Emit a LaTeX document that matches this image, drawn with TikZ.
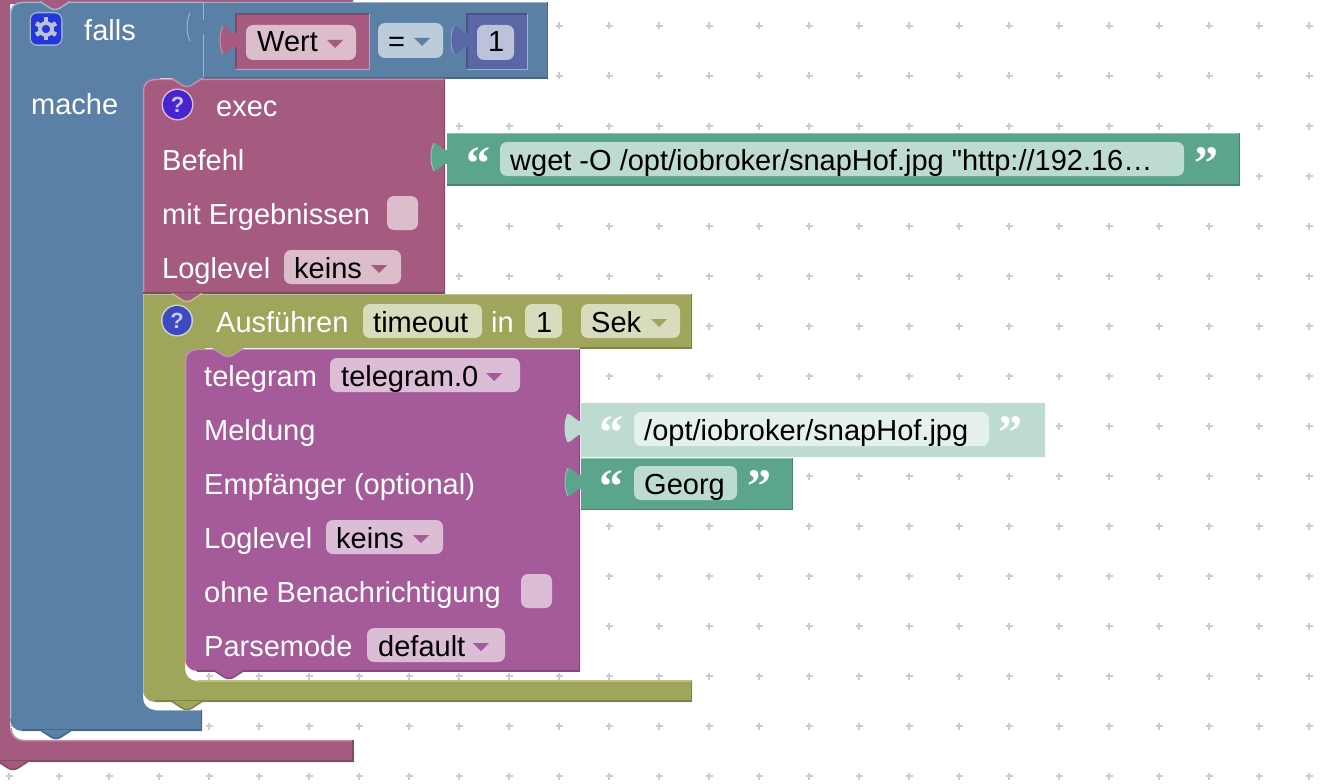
\documentclass[tikz,border=0pt]{standalone}
\usepackage{fontspec}
\newfontfamily\lbfont{Liberation Sans}
\newfontfamily\lbbold{Liberation Sans Bold}
\newfontfamily\qfont{Liberation Serif Bold}
\definecolor{pk}{HTML}{A55B80}\definecolor{pkL}{HTML}{C48FAA}\definecolor{pkD}{HTML}{844966}\definecolor{pkF}{HTML}{DBBDCC}
\definecolor{bl}{HTML}{5B80A5}\definecolor{blL}{HTML}{9DB3C9}\definecolor{blD}{HTML}{496684}\definecolor{blF}{HTML}{BDCCDB}
\definecolor{gr}{HTML}{5BA58C}\definecolor{grL}{HTML}{8FC4B2}\definecolor{grD}{HTML}{498470}\definecolor{grF}{HTML}{BDDBD1}
\definecolor{ol}{HTML}{9FA55B}\definecolor{olL}{HTML}{BCC08A}\definecolor{olD}{HTML}{7F8449}\definecolor{olF}{HTML}{D9DBBD}
\definecolor{pu}{HTML}{A55B99}\definecolor{puL}{HTML}{C48FBB}\definecolor{puD}{HTML}{84497A}\definecolor{puF}{HTML}{DBBDD6}
\definecolor{ind}{HTML}{5B67A5}\definecolor{indL}{HTML}{8F97C4}\definecolor{indD}{HTML}{495284}\definecolor{indF}{HTML}{BDC2DB}
\definecolor{ghost}{HTML}{BEDBD1}\definecolor{ghostF}{HTML}{E5F1ED}
\definecolor{gridc}{HTML}{CCCCCC}
\definecolor{gearbg}{HTML}{2536DD}\definecolor{gearc}{HTML}{B9C3DC}
\definecolor{helpA}{HTML}{3E49C0}\definecolor{helpB}{HTML}{4824D0}\definecolor{ringA}{HTML}{D0D4C8}\definecolor{ringB}{HTML}{D6BFD6}
\tikzset{
  lbl/.style={anchor=base west,inner sep=0pt,font=\lbfont\fontsize{29}{31}\selectfont},
  wl/.style={lbl,text=white},
  bk/.style={lbl,text=black},
  qm/.style={anchor=base west,inner sep=0pt,text=white,font=\qfont\fontsize{48}{50}\selectfont},
  helpq/.style={anchor=center,inner sep=0pt,text=white!78!blue,font=\lbbold\fontsize{22}{24}\selectfont},
  hl/.style={line width=1.5pt}
}
\newcommand{\fld}[5]{\fill[#1,rounded corners=7pt] (#2,#3) rectangle (#4,#5);}
\newcommand{\tri}[3]{\fill[#1] (#2,#3) -- ++(16,0) -- ++(-8,8) -- cycle;}
\newcommand{\tabshape}[4]{\begin{scope}[shift={(#3,#4)}]
  \fill[#1] (1,7) .. controls (-6,8) and (-8,0) .. (-13,0) .. controls (-17,8) and (-17,20) .. (-13,28) .. controls (-8,28) and (-6,20) .. (1,21) -- cycle;
  \draw[#2,line width=1pt] (-13,0) .. controls (-17,8) and (-17,20) .. (-13,28);
\end{scope}}
\newcommand{\notchshape}[4]{\begin{scope}[shift={(#3,#4)}]
  \fill[#1] (0,-1) -- (30,-1) -- (20,6) .. controls (17,8) and (13,8) .. (10,6) -- cycle;
  \draw[#2,line width=1.5pt] (0,-0.5) -- (10,6) .. controls (13,8) and (17,8) .. (20,6) -- (30,-0.5);
\end{scope}}
\begin{document}
\begin{tikzpicture}[x=1pt,y=-1pt]
\useasboundingbox (0,0) rectangle (1336,784);
\fill[white] (0,0) rectangle (1336,784);
% grid
\foreach \gx in {9,59,...,1309}{\foreach \gy in {26,76,...,776}{
  \draw[gridc,line width=1.6pt] (\gx-3.5,\gy) -- (\gx+3.5,\gy) (\gx,\gy-3.5) -- (\gx,\gy+3.5);}}
% pink outer
\fill[pk] (-5,-5) -- (353,-5) -- (353,4) -- (10,4) [rounded corners=12pt] -- (10,740) [sharp corners] -- (353,740) -- (353,762) -- (-5,762) -- cycle;
\draw[pkL,hl] (11,728) .. controls (11,735) and (16,740.5) .. (24,740.5) -- (353,740.5);
\draw[pkD,line width=2pt] (353,761) -- (0,761);
\draw[pkD,line width=1.5pt] (353,740) -- (353,762);
% blue
\fill[bl] (203,2) [rounded corners=12pt] -- (10,2) -- (10,731) [sharp corners] -- (202,731) -- (202,710) [rounded corners=12pt] -- (143,710) [sharp corners] -- (143,96) -- (160,96) -- (160,78) -- (203,78) -- cycle;
\draw[blL,hl] (10.5,719) -- (10.5,14) .. controls (10.5,7) and (15,2.5) .. (22,2.5) -- (203,2.5);
\draw[blL,hl] (155,710.5) -- (202,710.5);
\draw[blD,line width=2pt] (202,730) -- (22,730);
\draw[blD,line width=1.5pt] (201.5,710) -- (201.5,731);
% blue value row
\fill[bl] (203,2) rectangle (548,78);
\draw[blL,hl] (203,2.5) -- (548,2.5);
\draw[blL,line width=1pt] (203,2) -- (203,78);
\draw[blD,hl] (547.5,2) -- (547.5,78) -- (203,78);
\tabshape{bl}{blL}{203}{13}
% Wert
\fill[pk] (236,14) rectangle (369,69);
\draw[pkD,hl] (236,68) -- (236,14) -- (369,14);
\draw[blL,hl] (369.5,14) -- (369.5,69.5) -- (236,69.5);
\tabshape{pk}{pkL}{236}{26}
\fld{pkF}{246}{25}{356}{60}
\node[bk] (tWert) at (257,52) {Wert};
\tri{pk}{327}{40}
% =
\fld{blF}{378}{23}{443}{58}
\node[bk] (tEq) at (388,52) {=};
\tri{bl}{414}{38}
% 1
\fill[ind] (467,14) rectangle (527,69);
\draw[indD,hl] (467,68) -- (467,14) -- (527,14);
\draw[blL,hl] (527.5,14) -- (527.5,69.5) -- (467,69.5);
\tabshape{ind}{indL}{467}{26}
\fld{indF}{477}{25}{514}{60}
\node[bk] (tOne) at (488,52) {1};
% icon gear
\fill[blL,rounded corners=8pt] (29.5,12) rectangle (62.5,46);
\fill[gearbg,rounded corners=6pt] (31,13.5) rectangle (61,44.5);
\foreach \ang in {30,90,...,330}{\draw[gearc,line width=4.6pt] (46,29) ++(\ang:6) -- ++(\ang:5.5);}
\draw[gearc,line width=3.8pt] (46,29) circle[radius=6];
\node[wl] (tFalls) at (84,41) {falls};
\node[wl] (tMache) at (31,114) {mache};
% olive
\fill[ol] (143,294) -- (692,294) -- (692,348) -- (205,348) -- (205,366) -- (185,366) [rounded corners=12pt] -- (185,681) [sharp corners] -- (692,681) -- (692,702) [rounded corners=12pt] -- (143,702) [sharp corners] -- cycle;
\draw[olL,hl] (143.5,690) -- (143.5,294.5) -- (692,294.5);
\draw[olL,hl] (197,681) -- (692,681);
\draw[olD,hl] (691.5,294) -- (691.5,348) -- (580,348);
\draw[olD,line width=2pt] (692,701) -- (155,701);
\draw[olD,hl] (691.5,681) -- (691.5,702);
% purple
\fill[pu] (580,349) [rounded corners=12pt] -- (185,349) -- (185,671) [sharp corners] -- (580,671) -- cycle;
\draw[puL,hl] (197,349.5) .. controls (190,349.5) and (185.5,354) .. (185.5,361) -- (185.5,660);
\draw[puL,hl] (197,349.5) -- (580,349.5);
\draw[puD,hl] (579.5,349) -- (579.5,671);
\draw[puD,line width=2pt] (580,670.5) -- (197,670.5);
\node[wl] (tTele) at (204,386) {telegram};
\fld{puF}{330}{358}{520}{392}
\node[bk] (tTele0) at (341,386) {telegram.0};
\tri{pu}{486}{373}
\node[wl] (tMeld) at (204,440) {Meldung};
\node[wl] (tEmpf) at (204,494) {Empfänger (optional)};
\node[wl] (tLog2) at (204,548) {Loglevel};
\fld{puF}{326}{520}{443}{554}
\node[bk] (tKeins2) at (336,548) {keins};
\tri{pu}{413}{535}
\node[wl] (tOhne) at (204,602) {ohne Benachrichtigung};
\fld{puF}{521}{574}{552}{608}
\node[wl] (tPars) at (204,656) {Parsemode};
\fld{puF}{367}{628}{505}{662}
\node[bk] (tDef) at (378,656) {default};
\tri{pu}{473}{643}
% ghost string
\fill[ghost] (581,403) rectangle (1045,457);
\tabshape{ghost}{ghost}{581}{414}
\fld{ghostF}{634}{412}{989}{446}
\node[bk] (tOpt) at (644,440) {/opt/iobroker/snapHof.jpg};
\node[qm] (qG1) at (599,448) {“};
\node[qm] (qG2) at (998,448) {”};
% Georg
\fill[gr] (581,458) rectangle (793,510);
\draw[grL,hl] (581,458.5) -- (793,458.5);
\draw[grD,hl] (792.5,458) -- (792.5,509.5) -- (581,509.5);
\tabshape{gr}{grL}{581}{468}
\fld{grF}{634}{466}{737}{500}
\node[bk] (tGeorg) at (644,494) {Georg};
\node[qm] (qH1) at (599,502) {“};
\node[qm] (qH2) at (747,502) {”};
% Ausfuehren
\fill[ringA] (177,320.5) circle[radius=16];
\fill[helpA] (177,320.5) circle[radius=14.5];
\node[helpq] (qA) at (177,320.5) {?};
\node[wl] (tAus) at (216,332) {Ausführen};
\fld{olF}{363}{304}{482}{338}
\node[bk] (tTimeout) at (373,332) {timeout};
\node[wl] (tIn) at (491,332) {in};
\fld{olF}{525}{304}{562}{338}
\node[bk] (tOneB) at (536,332) {1};
\fld{olF}{581}{304}{680}{338}
\node[bk] (tSek) at (591,332) {Sek};
\tri{ol}{651}{319}
% exec
\fill[pk] (445,79) -- (445,293) -- (143,293) [rounded corners=12pt] -- (143,79) [sharp corners] -- cycle;
\draw[pkL,hl] (143.5,293) -- (143.5,91) .. controls (143.5,84) and (148,79.5) .. (155,79.5) -- (445,79.5);
\draw[pkD,hl] (444.5,79) -- (444.5,293) -- (143,293);
\fill[ringB] (177.5,104.5) circle[radius=16];
\fill[helpB] (177.5,104.5) circle[radius=14.5];
\node[helpq] (qE) at (177.5,104.5) {?};
\node[wl] (tExec) at (216,116) {exec};
\node[wl] (tBefehl) at (162,170) {Befehl};
\node[wl] (tMit) at (162,224) {mit Ergebnissen};
\fld{pkF}{387}{196}{418}{230}
\node[wl] (tLog1) at (162,278) {Loglevel};
\fld{pkF}{284}{250}{401}{284}
\node[bk] (tKeins1) at (294,278) {keins};
\tri{pk}{371}{265}
% wget string
\fill[gr] (447,133) rectangle (1240,185);
\draw[grL,hl] (447,133.5) -- (1240,133.5);
\draw[grD,hl] (1239.5,133) -- (1239.5,185) -- (447,185);
\tabshape{gr}{grL}{447}{143}
\fld{grF}{500}{142}{1184}{176}
\node[bk] (tWget) at (510,170) {wget -O /opt/iobroker/snapHof.jpg "http://192.16…};
\node[qm] (qW1) at (466,179) {“};
\node[qm] (qW2) at (1194,179) {”};
% notches (upper block's tab over the next block)
\notchshape{pk}{blL}{40}{2}
\notchshape{bl}{pkL}{172}{79}
\notchshape{pk}{olL}{172}{294}
\notchshape{ol}{puL}{213}{349}
\notchshape{pu}{puD}{214}{671}
\notchshape{ol}{olD}{172}{702}
\notchshape{bl}{blD}{41}{731}
\notchshape{pk}{pkD}{-2}{762}
\end{tikzpicture}
\end{document}
